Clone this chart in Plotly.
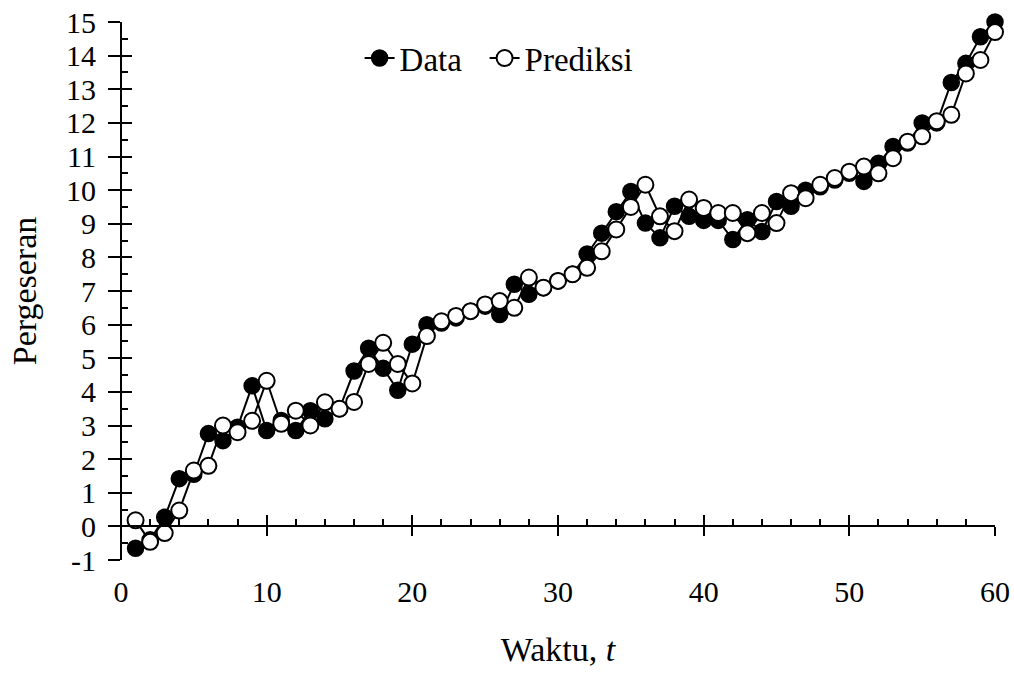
import plotly.graph_objects as go

t = list(range(1, 61))
data = [-0.65, -0.4, 0.27, 1.42, 1.55, 2.76, 2.55, 2.95, 4.18, 2.85,
        3.15, 2.85, 3.44, 3.2, 3.5, 4.62, 5.3, 4.7, 4.05, 5.42,
        6.0, 6.05, 6.2, 6.4, 6.55, 6.3, 7.2, 6.9, 7.1, 7.3,
        7.5, 8.1, 8.72, 9.36, 9.96, 9.02, 8.58, 9.52, 9.22, 9.1,
        9.1, 8.53, 9.12, 8.77, 9.66, 9.52, 10.0, 10.1, 10.3, 10.5,
        10.26, 10.8, 11.3, 11.4, 12.0, 12.0, 13.2, 13.77, 14.56, 15.0]
prediksi = [0.18, -0.46, -0.2, 0.47, 1.66, 1.8, 3.0, 2.8, 3.14, 4.33,
            3.05, 3.44, 3.0, 3.69, 3.5, 3.7, 4.83, 5.46, 4.83, 4.25,
            5.66, 6.1, 6.26, 6.4, 6.6, 6.7, 6.5, 7.4, 7.1, 7.3,
            7.5, 7.69, 8.18, 8.83, 9.5, 10.16, 9.22, 8.78, 9.72, 9.47,
            9.32, 9.32, 8.72, 9.32, 9.02, 9.91, 9.76, 10.16, 10.36, 10.55,
            10.7, 10.5, 10.95, 11.44, 11.6, 12.05, 12.24, 13.47, 13.87, 14.7]
x_ticks = [0, 10, 20, 30, 40, 50, 60]
y_ticks = list(range(-1, 16))
y_ticktext = [str(v) for v in y_ticks]  # plain hyphen for "-1"

FONT = "Liberation Serif"

fig = go.Figure()
fig.add_trace(go.Scatter(
    x=t, y=data, name="Data", mode="lines+markers", legend="legend",
    line=dict(color="black", width=2),
    marker=dict(symbol="circle", size=16, color="black", line=dict(color="black", width=1.5)),
    cliponaxis=False))
fig.add_trace(go.Scatter(
    x=t, y=prediksi, name="Prediksi", mode="lines+markers", legend="legend2",
    line=dict(color="black", width=2),
    marker=dict(symbol="circle", size=16, color="white", line=dict(color="black", width=2)),
    cliponaxis=False))
# helper (invisible) traces so the overlay axes get drawn
fig.add_trace(go.Scatter(x=t, y=data, xaxis="x2", yaxis="y2", mode="none",
                         showlegend=False, hoverinfo="skip"))
fig.add_trace(go.Scatter(x=t, y=data, xaxis="x3", yaxis="y3", mode="none",
                         showlegend=False, hoverinfo="skip"))

zero_pos = (0 - (-1)) / 16.0
legend_style = dict(orientation="h", y=0.985, xanchor="left", yanchor="top",
                    font=dict(family=FONT, size=33, color="black"),
                    bgcolor="rgba(0,0,0,0)", itemwidth=30)

fig.update_layout(
    width=1014, height=675,
    margin=dict(l=121, r=19, t=22, b=115, autoexpand=False),
    paper_bgcolor="white", plot_bgcolor="white",
    font=dict(family=FONT, color="black", size=30),
    showlegend=True,
    legend=dict(x=0.273, **legend_style),
    legend2=dict(x=0.416, **legend_style),
    # bottom axis: labels and title only
    xaxis=dict(range=[0, 60], showline=False, zeroline=False, showgrid=False, automargin=False,
               ticks="", tickvals=x_ticks, tickfont=dict(size=30),
               ticklabelstandoff=11,
               title=dict(text="Waktu, <i>t</i>", font=dict(size=34), standoff=30)),
    # axis line through y = 0, ticks upward
    xaxis2=dict(range=[0, 60], overlaying="x", anchor="free", position=zero_pos, automargin=False,
                showline=True, linecolor="black", linewidth=2, zeroline=False, showgrid=False,
                ticks="inside", ticklen=10, tickwidth=2, tickcolor="black",
                tickvals=x_ticks, showticklabels=False,
                minor=dict(ticks="inside", dtick=2, tick0=0, ticklen=6, tickwidth=1.5,
                           tickcolor="black", showgrid=False)),
    # downward part of the major x ticks
    xaxis3=dict(range=[0, 60], overlaying="x", anchor="free", position=zero_pos, automargin=False,
                showline=False, zeroline=False, showgrid=False,
                ticks="outside", ticklen=9, tickwidth=2, tickcolor="black",
                tickvals=x_ticks, showticklabels=False),
    # left axis: labels and title only
    yaxis=dict(range=[-1, 15], showline=False, automargin=False,
               zeroline=False, showgrid=False,
               ticks="", tickvals=y_ticks, ticktext=y_ticktext, tickfont=dict(size=30),
               ticklabelstandoff=24,
               title=dict(text="Pergeseran", font=dict(size=34), standoff=19)),
    # axis line, outward major ticks
    yaxis2=dict(range=[-1, 15], overlaying="y", anchor="free", position=0, side="left",
                automargin=False, showline=True, linecolor="black", linewidth=2,
                zeroline=False, showgrid=False,
                ticks="outside", ticklen=12, tickwidth=2, tickcolor="black",
                tickvals=y_ticks, showticklabels=False),
    # inward major + minor ticks
    yaxis3=dict(range=[-1, 15], overlaying="y", anchor="free", position=0, side="left",
                automargin=False, showline=False, zeroline=False, showgrid=False,
                ticks="inside", ticklen=10, tickwidth=2, tickcolor="black",
                tickvals=y_ticks, showticklabels=False,
                minor=dict(ticks="inside", dtick=0.5, tick0=0, ticklen=6, tickwidth=1.5,
                           tickcolor="black", showgrid=False)),
)

fig.write_html("out.html", config={"displayModeBar": False},
               post_script="document.body.style.margin='0';")
